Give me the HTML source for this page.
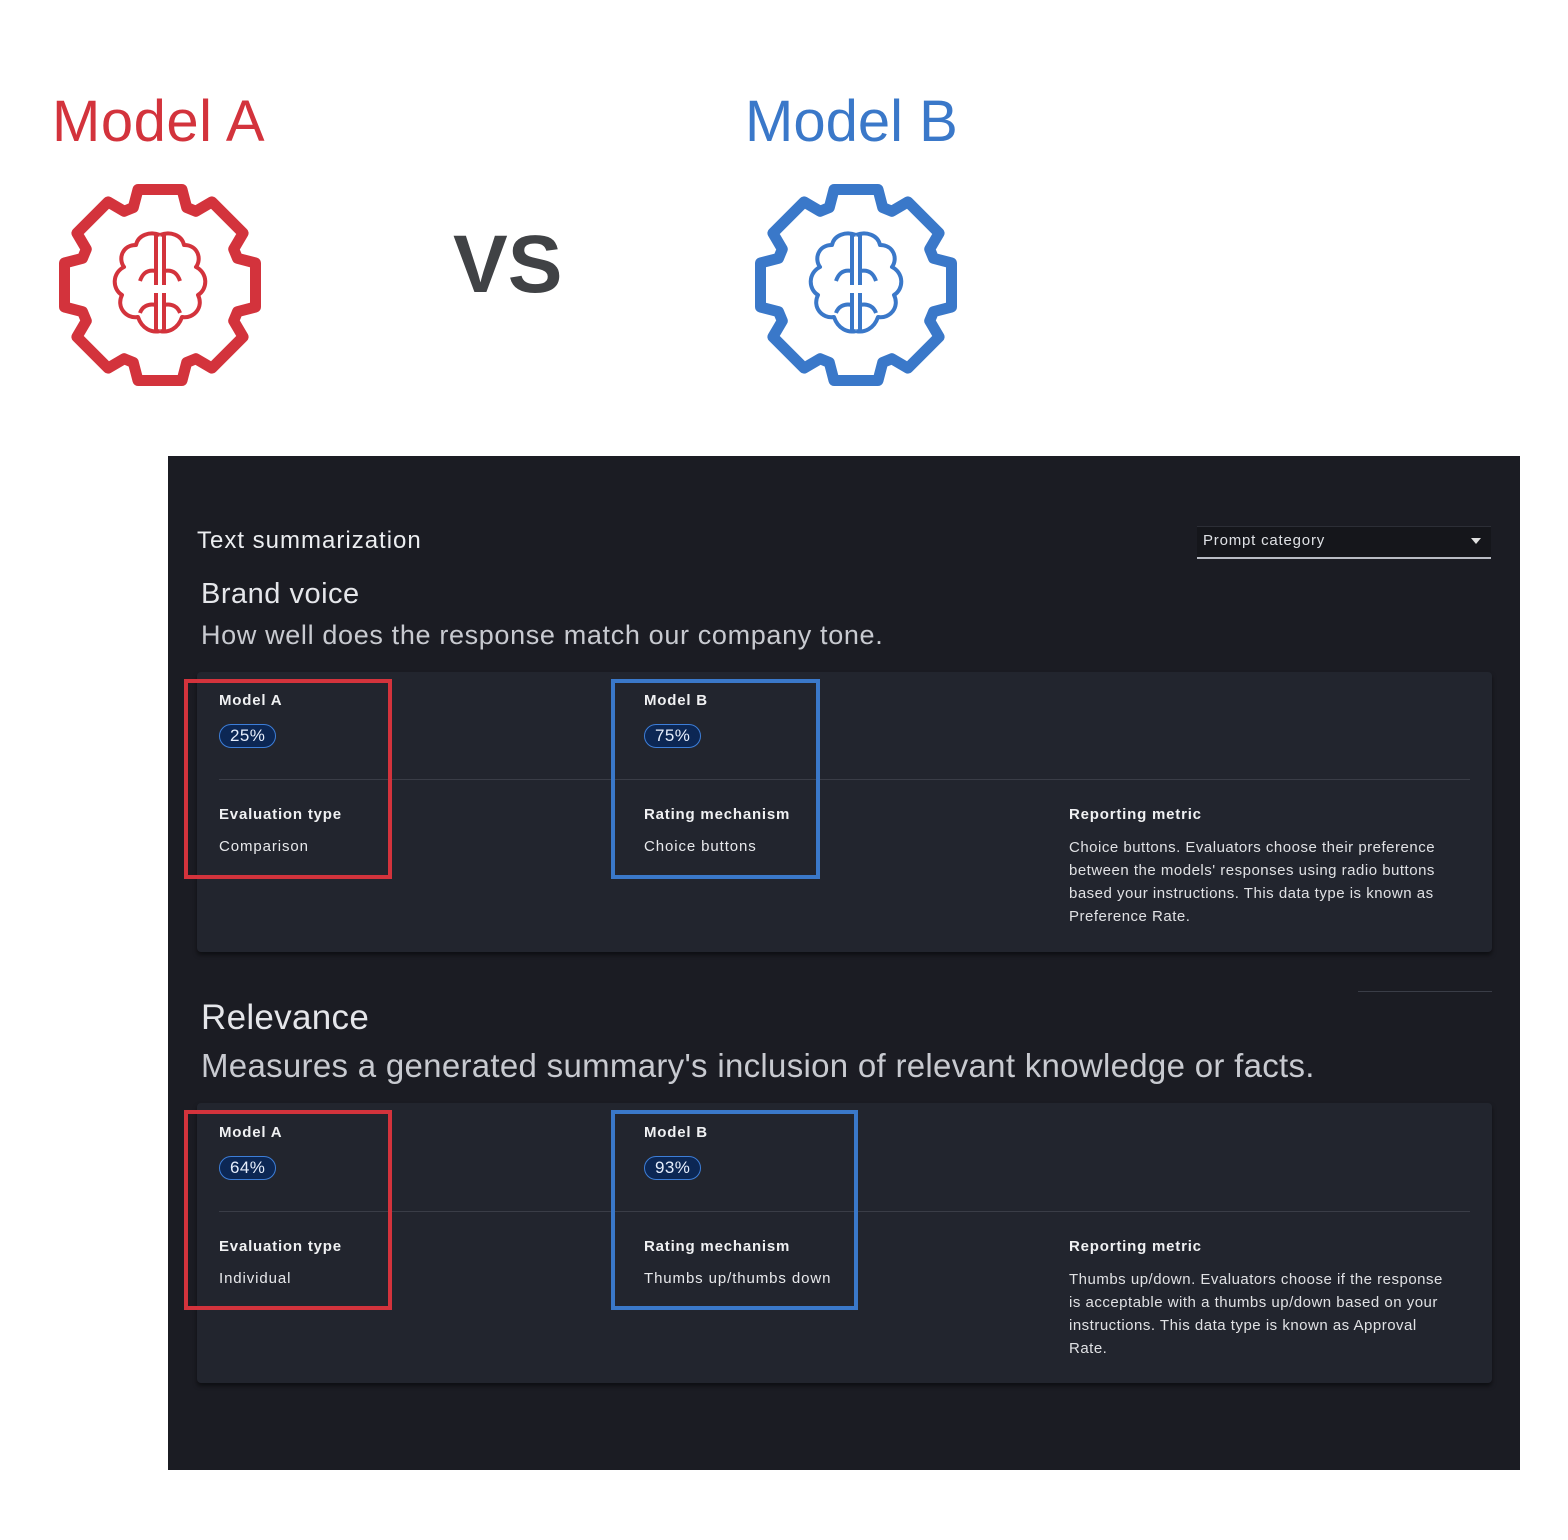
<!DOCTYPE html>
<html><head><meta charset="utf-8"><style>
body{margin:0;width:1568px;height:1540px;background:#fff;position:relative;overflow:hidden;font-family:"Liberation Sans",sans-serif}
.a{position:absolute;white-space:nowrap}
.panel{position:absolute;left:168px;top:456px;width:1352px;height:1014px;background:#1b1c23}
.card{position:absolute;left:197px;width:1295px;height:280px;background:#22252e;border-radius:4px;box-shadow:0 3px 4px rgba(0,0,0,.5)}
.w{color:#e8e9ec;font-size:15px;letter-spacing:0.9px}
.b{color:#f0f1f3;font-size:15px;font-weight:bold;letter-spacing:0.8px}
.pill{position:absolute;height:22px;line-height:22px;padding:0 10px;border:1.5px solid #3d7ed8;border-radius:12px;background:#0c2754;color:#e6eefc;font-size:17px;letter-spacing:0.4px}
.box{position:absolute;border:4px solid}
.hr{position:absolute;height:1px;background:#3a3d47}
.m{color:#e0e1e4;font-size:15px;line-height:23px;letter-spacing:0.5px}
</style></head><body>
<div class="a" style="left:52px;top:88px;font-size:58px;color:#d3333c;letter-spacing:0.5px">Model A</div>
<div class="a" style="left:745px;top:88px;font-size:58px;color:#3a78c9">Model B</div>
<div class="a" style="left:453px;top:218px;font-size:82px;color:#404245;font-weight:bold">VS</div>
<svg width="1568" height="420" style="position:absolute;left:0;top:0">
<g id="g1" transform="translate(160,285)" fill="none" stroke="#d3333c" stroke-width="11" stroke-linejoin="round"></g>
<g id="g2" transform="translate(856,285)" fill="none" stroke="#3a78c9" stroke-width="11" stroke-linejoin="round"></g>
</svg>
<div class="panel"></div>
<div class="a" style="left:197px;top:527px;font-size:24px;color:#eceef1;letter-spacing:1px">Text summarization</div>
<div class="a" style="left:1197px;top:526px;width:294px;height:30px;background:#15161b;border-bottom:2px solid #b9bcc4;border-top:1px solid #2c2e36"></div>
<div class="a" style="left:1203px;top:532px;font-size:15px;color:#dfe1e5;letter-spacing:0.8px">Prompt category</div>
<div class="a" style="left:1471px;top:538px;width:0;height:0;border-left:5px solid transparent;border-right:5px solid transparent;border-top:6px solid #e0e0e0"></div>
<div class="a" style="left:201px;top:578px;font-size:29px;color:#e5e6ea;letter-spacing:0.5px">Brand voice</div>
<div class="a" style="left:201px;top:620px;font-size:27px;color:#c8cad0;letter-spacing:0.65px">How well does the response match our company tone.</div>
<div class="card" style="top:672px"></div>
<div class="hr" style="left:219px;top:779px;width:1251px"></div>
<div class="a b" style="left:219px;top:692px">Model A</div>
<div class="pill" style="left:219px;top:724px">25%</div>
<div class="a b" style="left:644px;top:692px">Model B</div>
<div class="pill" style="left:644px;top:724px">75%</div>
<div class="a b" style="left:219px;top:806px">Evaluation type</div>
<div class="a w" style="left:219px;top:838px">Comparison</div>
<div class="a b" style="left:644px;top:806px">Rating mechanism</div>
<div class="a w" style="left:644px;top:838px">Choice buttons</div>
<div class="a b" style="left:1069px;top:806px">Reporting metric</div>
<div class="a m" style="left:1069px;top:836px">Choice buttons. Evaluators choose their preference<br>between the models' responses using radio buttons<br>based your instructions. This data type is known as<br>Preference Rate.</div>
<div class="box" style="left:184px;top:679px;width:200px;height:192px;border-color:#d3333c"></div>
<div class="box" style="left:611px;top:679px;width:201px;height:192px;border-color:#3a78c9"></div>
<div class="hr" style="left:1358px;top:991px;width:134px"></div>
<div class="a" style="left:201px;top:998px;font-size:35px;color:#e5e6ea;letter-spacing:0.3px">Relevance</div>
<div class="a" style="left:201px;top:1047px;font-size:33px;color:#c8cad0;letter-spacing:0.3px">Measures a generated summary's inclusion of relevant knowledge or facts.</div>
<div class="card" style="top:1103px"></div>
<div class="hr" style="left:219px;top:1211px;width:1251px"></div>
<div class="a b" style="left:219px;top:1124px">Model A</div>
<div class="pill" style="left:219px;top:1156px">64%</div>
<div class="a b" style="left:644px;top:1124px">Model B</div>
<div class="pill" style="left:644px;top:1156px">93%</div>
<div class="a b" style="left:219px;top:1238px">Evaluation type</div>
<div class="a w" style="left:219px;top:1270px">Individual</div>
<div class="a b" style="left:644px;top:1238px">Rating mechanism</div>
<div class="a w" style="left:644px;top:1270px">Thumbs up/thumbs down</div>
<div class="a b" style="left:1069px;top:1238px">Reporting metric</div>
<div class="a m" style="left:1069px;top:1268px">Thumbs up/down. Evaluators choose if the response<br>is acceptable with a thumbs up/down based on your<br>instructions. This data type is known as Approval<br>Rate.</div>
<div class="box" style="left:184px;top:1110px;width:200px;height:192px;border-color:#d3333c"></div>
<div class="box" style="left:611px;top:1110px;width:239px;height:192px;border-color:#3a78c9"></div>
<script>
function gear(){var p=[];for(var i=0;i<8;i++){var a=(-90+i*45)*Math.PI/180,d=Math.PI/180;
[[-19,82],[-13,98],[13,98],[19,82]].forEach(function(q){var t=a+q[0]*d;p.push((q[1]*Math.cos(t)).toFixed(1)+','+(q[1]*Math.sin(t)).toFixed(1));});}
var s='<path d="M'+p.join(' L')+' Z"/>';
s+='<g stroke-width="4"><path d="M0,-50 C-10,-54 -22,-50 -24,-40 C-38,-40 -42,-26 -36,-18 C-48,-12 -48,4 -38,10 C-44,22 -34,34 -22,32 C-18,44 -8,48 0,46"/>';
s+='<path d="M0,-50 C10,-54 22,-50 24,-40 C38,-40 42,-26 36,-18 C48,-12 48,4 38,10 C44,22 34,34 22,32 C18,44 8,48 0,46"/>';
s+='<path d="M-4,-50 V0 M4,-50 V0 M-4,8 V46 M4,8 V46 M-4,-14 C-14,-16 -18,-10 -20,-4 M4,-14 C14,-16 18,-10 20,-4 M-4,20 C-12,18 -18,22 -20,28 M4,20 C12,18 18,22 20,28"/></g>';
return s;}
document.getElementById('g1').innerHTML=gear();document.getElementById('g2').innerHTML=gear();
</script>
</body></html>
